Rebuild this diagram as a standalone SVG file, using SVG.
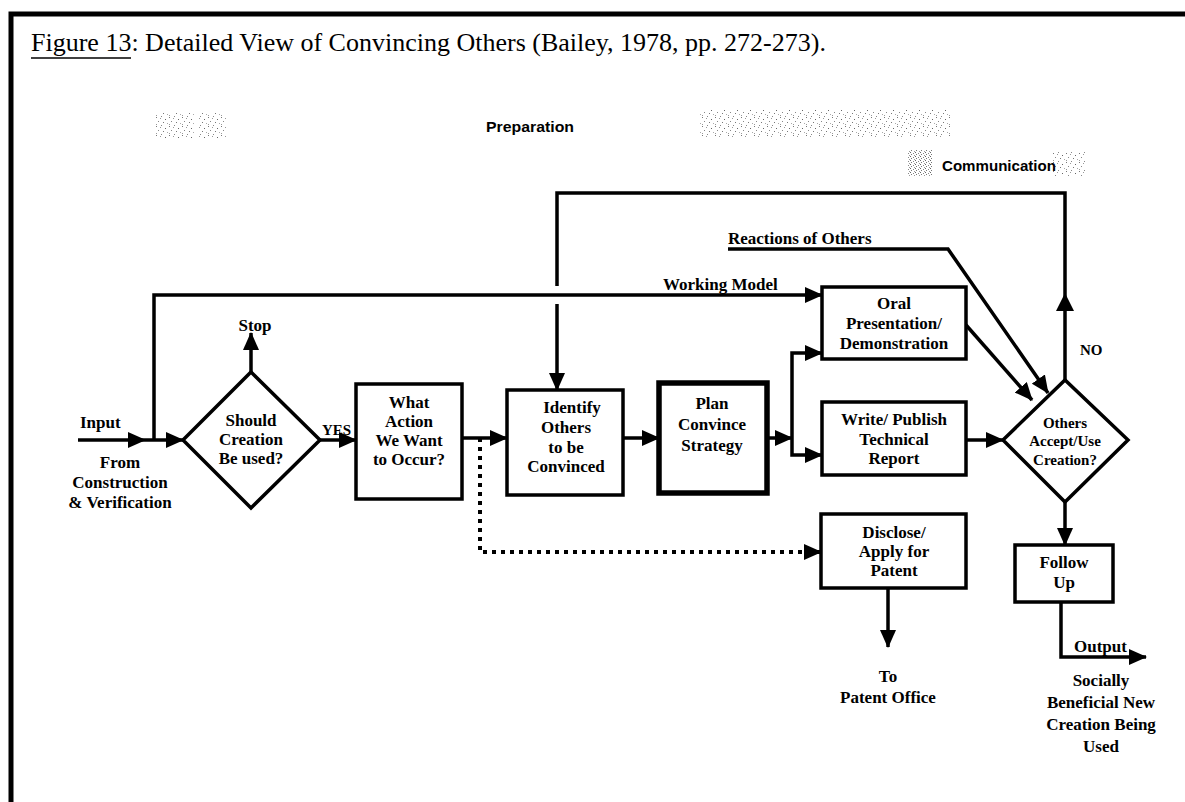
<svg xmlns="http://www.w3.org/2000/svg" width="1185" height="802" viewBox="0 0 1185 802">
  <style>
    .t { font-family: "Liberation Serif", "Times New Roman", serif; font-size: 17px; font-weight: bold; fill: #000; }
    .ts { font-family: "Liberation Serif", "Times New Roman", serif; font-size: 15px; font-weight: bold; fill: #000; }
    .sn { font-family: "Liberation Sans Narrow", "Liberation Sans", Arial, sans-serif; font-size: 15px; font-weight: bold; fill: #000; }
    .c { text-anchor: middle; }
    .box { fill: #fff; stroke: #000; stroke-width: 3.5; }
    .thick { stroke-width: 5.5; }
    .ln { fill: none; stroke: #000; stroke-width: 3.5; }
    .arr { marker-end: url(#ah); }
    .dot { stroke-width: 4; stroke-dasharray: 4 5; }
  </style>
  <defs>
    <marker id="ah" markerUnits="userSpaceOnUse" markerWidth="18" markerHeight="16" refX="17" refY="8" orient="auto">
      <path d="M0,0 L18,8 L0,16 z" fill="#000"/>
    </marker>
    <!-- sparse speckle used for the faded headings -->
    <pattern id="grain" width="13" height="9" patternUnits="userSpaceOnUse">
      <rect x="0" y="0" width="1" height="1" fill="#777"/>
      <rect x="4" y="1" width="1" height="1" fill="#999"/>
      <rect x="9" y="2" width="1" height="1" fill="#666"/>
      <rect x="2" y="4" width="1" height="1" fill="#888"/>
      <rect x="7" y="5" width="1" height="1" fill="#777"/>
      <rect x="11" y="6" width="1" height="1" fill="#aaa"/>
      <rect x="5" y="8" width="1" height="1" fill="#888"/>
      <rect x="0" y="7" width="1" height="1" fill="#999"/>
    </pattern>
    <pattern id="grainD" width="5" height="4" patternUnits="userSpaceOnUse">
      <rect x="0" y="0" width="1" height="1" fill="#666"/>
      <rect x="3" y="1" width="1" height="1" fill="#888"/>
      <rect x="1" y="2" width="1" height="1" fill="#777"/>
      <rect x="4" y="3" width="1" height="1" fill="#999"/>
    </pattern>
  </defs>

  <rect width="1185" height="802" fill="#fff"/>

  <!-- page frame -->
  <path d="M11,802 V14 H1185" fill="none" stroke="#000" stroke-width="5"/>

  <!-- caption -->
  <text x="31" y="51" font-family="Liberation Serif, Times New Roman, serif" font-size="26">Figure 13: Detailed View of Convincing Others (Bailey, 1978, pp. 272-273).</text>
  <line x1="31" y1="58" x2="131" y2="58" stroke="#000" stroke-width="1.5"/>

  <!-- faded stage headings -->
  <g id="faded">
    <rect x="155" y="113" width="40" height="26" fill="url(#grain)"/>
    <rect x="199" y="113" width="27" height="26" fill="url(#grain)"/>
    <rect x="700" y="110" width="250" height="27" fill="url(#grain)"/>
    <rect x="908" y="150" width="24" height="26" fill="url(#grainD)"/>
    <rect x="1052" y="152" width="34" height="24" fill="url(#grain)"/>
  </g>
  <text class="sn c" x="530" y="132" textLength="88" lengthAdjust="spacingAndGlyphs">Preparation</text>
  <text class="sn c" x="999" y="171" textLength="114" lengthAdjust="spacingAndGlyphs">Communication</text>

  <!-- connectors -->
  <g id="connectors">
    <path class="ln arr" d="M78,440 H145"/>
    <path class="ln arr" d="M145,440 H183"/>
    <path class="ln arr" d="M154,440 V295 H822"/>
    <path class="ln arr" d="M251,372 V333"/>
    <path class="ln arr" d="M320,440 H356"/>
    <path class="ln arr" d="M462,438 H507"/>
    <path class="ln dot arr" d="M480,438 V552 H821"/>
    <path class="ln arr" d="M623,438 H659"/>
    <path class="ln arr" d="M767,438 H792"/>
    <path class="ln arr" d="M792,438 V353 H822"/>
    <path class="ln arr" d="M792,438 V455 H822"/>
    <path class="ln" d="M1065,380 V193 H557 V286"/>
    <path d="M1065,293 L1074,311 L1056,311 z" fill="#000"/>
    <path class="ln arr" d="M557,304 V390"/>
    <path class="ln arr" d="M728,249 H948 L1048,393"/>
    <path class="ln arr" d="M966,325 L1032,400"/>
    <path class="ln arr" d="M966,440 H1003"/>
    <path class="ln arr" d="M1065,502 V545"/>
    <path class="ln arr" d="M888,588 V647"/>
    <path class="ln arr" d="M1061,602 V657 H1146"/>
  </g>

  <!-- connector labels -->
  <text class="t" x="80" y="428">Input</text>
  <text class="t c" x="120" y="468">From</text>
  <text class="t c" x="120" y="488">Construction</text>
  <text class="t c" x="120" y="508">&amp; Verification</text>
  <text class="t c" x="255" y="331">Stop</text>
  <text class="ts" x="322" y="435" font-size="14">YES</text>
  <text class="t" x="663" y="290">Working Model</text>
  <text class="t" x="728" y="244">Reactions of Others</text>
  <text class="ts" x="1080" y="355">NO</text>
  <text class="t c" x="888" y="682">To</text>
  <text class="t c" x="888" y="703">Patent Office</text>
  <text class="t" x="1074" y="652">Output</text>
  <text class="t c" x="1101" y="686">Socially</text>
  <text class="t c" x="1101" y="708">Beneficial New</text>
  <text class="t c" x="1101" y="730">Creation Being</text>
  <text class="t c" x="1101" y="752">Used</text>

  <!-- decision: use the creation? -->
  <g id="should-use">
    <path class="box" d="M183,440 L251,372 L320,440 L251,508 z"/>
    <text class="t c" x="251" y="426">Should</text>
    <text class="t c" x="251" y="445">Creation</text>
    <text class="t c" x="251" y="464">Be used?</text>
  </g>

  <g id="what-action">
    <rect class="box" x="356" y="384" width="106" height="115"/>
    <text class="t c" x="409" y="408">What</text>
    <text class="t c" x="409" y="427">Action</text>
    <text class="t c" x="409" y="446">We Want</text>
    <text class="t c" x="409" y="465">to Occur?</text>
  </g>

  <g id="identify-others">
    <rect class="box" x="507" y="390" width="116" height="105"/>
    <text class="t c" x="572" y="413">Identify</text>
    <text class="t c" x="566" y="433">Others</text>
    <text class="t c" x="566" y="453">to be</text>
    <text class="t c" x="566" y="472">Convinced</text>
  </g>

  <g id="plan-strategy">
    <rect class="box thick" x="659" y="383" width="108" height="110"/>
    <text class="t c" x="712" y="409">Plan</text>
    <text class="t c" x="712" y="430">Convince</text>
    <text class="t c" x="712" y="451">Strategy</text>
  </g>

  <g id="oral-presentation">
    <rect class="box" x="822" y="287" width="144" height="72"/>
    <text class="t c" x="894" y="309">Oral</text>
    <text class="t c" x="894" y="329">Presentation/</text>
    <text class="t c" x="894" y="349">Demonstration</text>
  </g>

  <g id="technical-report">
    <rect class="box" x="822" y="402" width="144" height="73"/>
    <text class="t c" x="894" y="425">Write/ Publish</text>
    <text class="t c" x="894" y="445">Technical</text>
    <text class="t c" x="894" y="464">Report</text>
  </g>

  <g id="patent">
    <rect class="box" x="821" y="514" width="145" height="74"/>
    <text class="t c" x="894" y="538">Disclose/</text>
    <text class="t c" x="894" y="557">Apply for</text>
    <text class="t c" x="894" y="576">Patent</text>
  </g>

  <!-- decision: accepted by others? -->
  <g id="others-accept">
    <path class="box" d="M1003,440 L1065,380 L1128,440 L1065,502 z"/>
    <text class="ts c" x="1065" y="428">Others</text>
    <text class="ts c" x="1065" y="446">Accept/Use</text>
    <text class="ts c" x="1065" y="465">Creation?</text>
  </g>

  <g id="follow-up">
    <rect class="box" x="1015" y="545" width="98" height="57"/>
    <text class="t c" x="1064" y="568">Follow</text>
    <text class="t c" x="1064" y="588">Up</text>
  </g>
</svg>
